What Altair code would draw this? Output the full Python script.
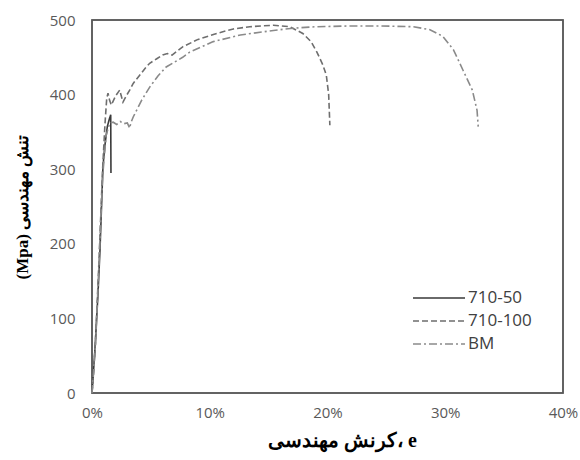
import altair as alt
import pandas as pd

series_names = ["710-50", "710-100", "BM"]

s50_strain = [0, 0.06, 0.25, 0.5, 0.68, 0.93, 1.08, 1.3, 1.45, 1.59, 1.61]
s50_stress = [0, 13, 58, 130, 192, 303, 330, 357, 366, 373, 295]

s100_strain = [0, 0.1, 0.3, 0.6, 0.9, 1.1, 1.25, 1.36, 1.5, 1.64, 2.0, 2.35, 2.63, 2.9, 3.2,
               3.5, 4.0, 4.6, 4.9, 5.5, 6.0, 6.4, 6.8, 7.7, 9.0, 10.6, 12.0, 13.4, 15.4, 16.8,
               17.9, 18.6, 19.1, 19.6, 19.9, 20.1, 20.2]
s100_stress = [0, 20, 70, 180, 300, 360, 395, 402, 392, 386, 398, 406, 390, 398, 406,
               415, 425, 437, 442, 448, 453, 455, 453, 464, 474, 482, 488, 491, 493, 491,
               482, 471, 457, 440, 426, 400, 359]

bm_strain = [0, 0.1, 0.3, 0.6, 0.9, 1.2, 1.5, 1.8, 2.1, 2.4, 2.7, 3.0, 3.2, 3.3, 3.5, 4.2,
             4.9, 5.6, 6.3, 7.7, 8.3, 10.3, 12.6, 15.4, 17.1, 19.0, 21.9, 24.5, 27.3, 28.7,
             29.8, 30.7, 31.5, 32.3, 32.7, 32.8]
bm_stress = [0, 20, 65, 175, 290, 345, 362, 363, 360, 364, 361, 362, 355, 362, 370, 392,
             410, 425, 437, 450, 457, 471, 480, 486, 489, 491, 492, 492, 491, 487,
             478, 460, 433, 406, 379, 357]

x_ticks = [0, 10, 20, 30, 40]
y_ticks = [0, 100, 200, 300, 400, 500]
x_range = [0, 40]
y_range = [0, 500]

rows = []
for name, xs, ys in zip(series_names,
                        [s50_strain, s100_strain, bm_strain],
                        [s50_stress, s100_stress, bm_stress]):
    for i, (x, y) in enumerate(zip(xs, ys)):
        rows.append({"series": name, "strain": x, "stress": y, "idx": i})
df = pd.DataFrame(rows)

frame_df = pd.DataFrame({"x0": [x_range[0]], "x1": [x_range[1]],
                         "y0": [y_range[0]], "y1": [y_range[1]]})

line_colors = ["#3a3a3a", "#6e6e6e", "#8a8a8a"]
line_dashes = [[1, 0], [6, 3], [8, 3, 2, 3]]

x_scale = alt.Scale(domain=x_range, nice=False)
y_scale = alt.Scale(domain=y_range, nice=False)

x_axis = alt.Axis(values=x_ticks, labelExpr="datum.value + '%'",
                  title="کرنش مهندسی، e", grid=False, ticks=False, domain=False,
                  labelFlush=False,
                  labelFont="Open Sans", labelFontSize=15, labelColor="#595959",
                  labelPadding=12, titleFont="Liberation Serif", titleFontSize=20,
                  titleFontWeight="bold", titleColor="#000000", titlePadding=10,
                  titleX=250, titleAlign="center")
y_axis = alt.Axis(values=y_ticks,
                  title="(Mpa) تنش مهندسی", grid=False, ticks=False, domain=False,
                  labelFlush=False,
                  labelFont="Open Sans", labelFontSize=15, labelColor="#595959",
                  labelPadding=17, titleFont="Liberation Serif", titleFontSize=17,
                  titleFontWeight="bold", titleColor="#000000", titlePadding=18)

frame = alt.Chart(frame_df).mark_rect(fill=None, fillOpacity=0, stroke="#595959",
                                      strokeWidth=1.5).encode(
    x=alt.X("x0:Q", scale=x_scale, axis=None),
    x2="x1:Q",
    y=alt.Y("y0:Q", scale=y_scale, axis=None),
    y2="y1:Q",
)

lines = alt.Chart(df).mark_line(strokeWidth=1.6).encode(
    x=alt.X("strain:Q", scale=x_scale, axis=x_axis),
    y=alt.Y("stress:Q", scale=y_scale, axis=y_axis),
    color=alt.Color("series:N", scale=alt.Scale(domain=series_names, range=line_colors),
                    legend=alt.Legend(title=None, orient="none", legendX=336, legendY=267,
                                      symbolType="M-2.6,0H2.6", symbolSize=400,
                                      symbolStrokeWidth=1.6, labelFont="Open Sans",
                                      labelFontSize=17, labelColor="#404040",
                                      labelOffset=18, rowPadding=4)),
    strokeDash=alt.StrokeDash("series:N", scale=alt.Scale(domain=series_names, range=line_dashes),
                              legend=None),
    order="idx:Q",
    detail="series:N",
)

chart = alt.layer(frame, lines).resolve_axis(x="independent", y="independent").properties(
    width=471, height=373,
    background="white",
    autosize=alt.AutoSizeParams(type="none"),
    padding={"left": 92, "top": 20, "right": 17, "bottom": 67},
).configure_view(
    stroke="#595959", strokeWidth=1.5
)

chart.save("out.html", embed_options={"renderer": "svg", "actions": False})
